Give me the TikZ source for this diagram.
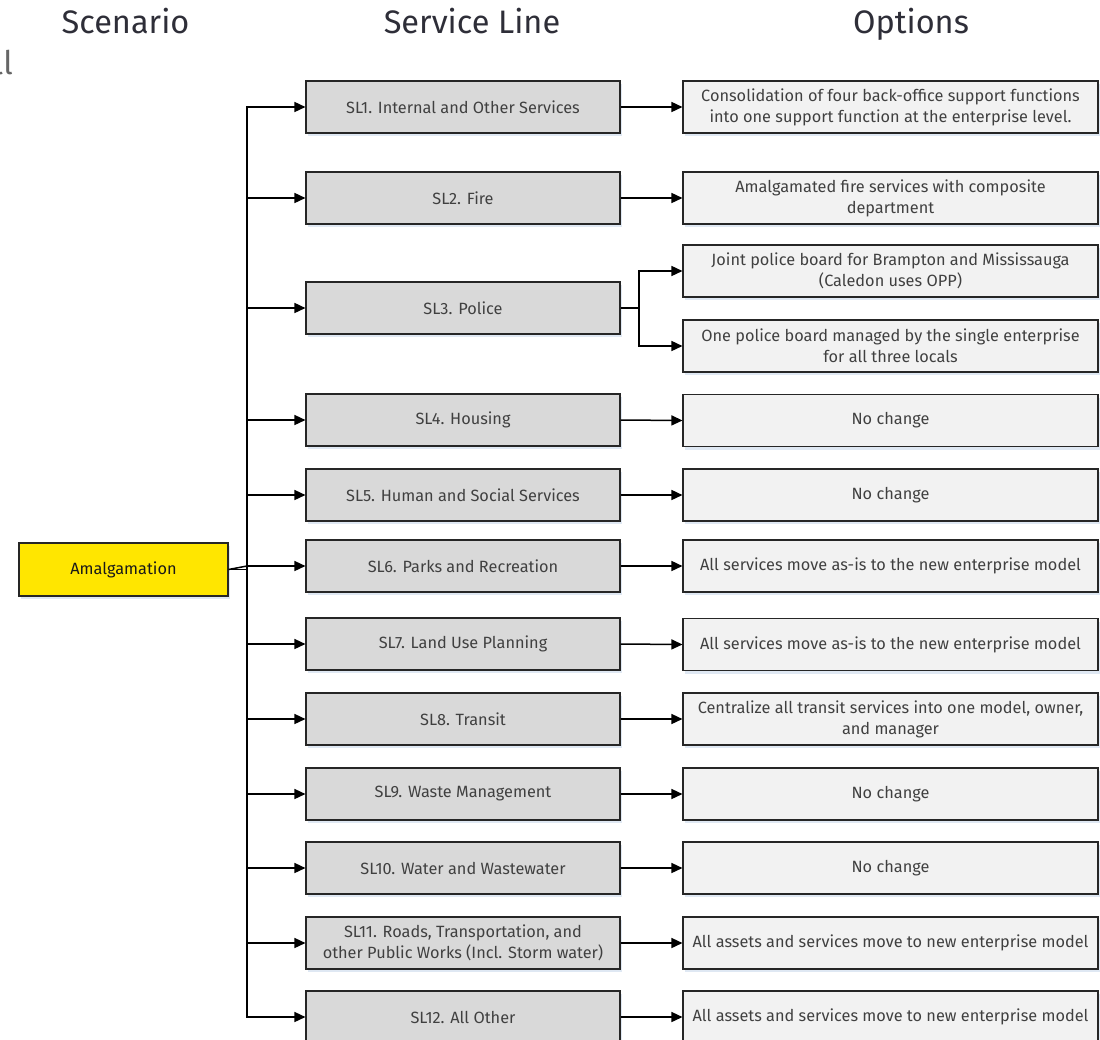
\documentclass[tikz,border=0pt]{standalone}
\usepackage{fontspec}
\setmainfont{Fira Sans}
\usetikzlibrary{arrows.meta,shadows}
\definecolor{titlec}{HTML}{2E2E38}
\definecolor{txtc}{HTML}{404040}
\definecolor{boxline}{HTML}{262626}
\definecolor{slfill}{HTML}{D9D9D9}
\definecolor{opfill}{HTML}{F2F2F2}
\definecolor{eyyellow}{HTML}{FFE600}
\definecolor{shadowc}{HTML}{DCE6F2}
\begin{document}
\begin{tikzpicture}[x=1pt,y=-1pt,
  base/.style={draw=boxline, line width=1.1pt, inner sep=0pt, align=center,
    font=\fontsize{16.3}{21}\selectfont, text=txtc,
    drop shadow={shadow xshift=1.5pt, shadow yshift=-3pt, fill=shadowc, opacity=0.9}},
  slbox/.style={base, fill=slfill, minimum width=314pt, minimum height=52pt},
  opbox/.style={base, fill=opfill, minimum width=415pt, minimum height=52pt},
  scbox/.style={base, fill=eyyellow, minimum width=209pt, minimum height=53pt, text=black!90},
  title/.style={font=\fontsize{32.5}{36}\selectfont, text=titlec, anchor=base},
  conn/.style={line width=1.5pt, draw=black, -{Triangle[length=11pt,width=10pt]}},
  plain/.style={line width=1.5pt, draw=black}]
\clip (0,0) rectangle (1100,1039);
\useasboundingbox (0,0) rectangle (1100,1039);

% titles
\node[title] (t1) at (125.5,33) {Scenario};
\node[title] (t2) at (472,33) {Service Line};
\node[title] (t3) at (911,33) {Options};
\node[title, anchor=base east, text=black!60, inner sep=0pt] (cut) at (13,74) {ll};

% scenario
\node[scbox] (amal) at (123.5,569.5) {Amalgamation};
\coordinate (tk) at (247,566);

% service lines
\node[slbox] (sl1) at (463,107) {SL1. Internal and Other Services};
\node[slbox] (sl2) at (463,198) {SL2. Fire};
\node[slbox] (sl3) at (463,308) {SL3. Police};
\node[slbox] (sl4) at (463,420) {SL4. Housing};
\node[slbox] (sl5) at (463,495) {SL5. Human and Social Services};
\node[slbox] (sl6) at (463,566) {SL6. Parks and Recreation};
\node[slbox] (sl7) at (463,644) {SL7. Land Use Planning};
\node[slbox] (sl8) at (463,719) {SL8. Transit};
\node[slbox] (sl9) at (463,794) {SL9. Waste Management};
\node[slbox] (sl10) at (463,868) {SL10. Water and Wastewater};
\node[slbox] (sl11) at (463,943) {SL11. Roads, Transportation, and\\other Public Works (Incl. Storm water)};
\node[slbox] (sl12) at (463,1017) {SL12. All Other};

% options
\node[opbox] (op1) at (890.5,107) {Consolidation of four back-office support functions\\into one support function at the enterprise level.};
\node[opbox] (op2) at (890.5,198) {Amalgamated fire services with composite\\department};
\node[opbox] (op3a) at (890.5,271) {Joint police board for Brampton and Mississauga\\(Caledon uses OPP)};
\node[opbox] (op3b) at (890.5,346) {One police board managed by the single enterprise\\for all three locals};
\node[opbox] (op4) at (890.5,420.5) {No change};
\node[opbox] (op5) at (890.5,495) {No change};
\node[opbox] (op6) at (890.5,566) {All services move as-is to the new enterprise model};
\node[opbox] (op7) at (890.5,644.5) {All services move as-is to the new enterprise model};
\node[opbox] (op8) at (890.5,719) {Centralize all transit services into one model, owner,\\and manager};
\node[opbox] (op9) at (890.5,794) {No change};
\node[opbox] (op10) at (890.5,868) {No change};
\node[opbox] (op11) at (890.5,943) {All assets and services move to new enterprise model};
\node[opbox] (op12) at (890.5,1017) {All assets and services move to new enterprise model};

% scenario to trunk
\draw[plain] (amal.east) -- (tk);
\draw[plain] (amal.east) -- (tk |- amal.east);

% trunk to service lines
\foreach \i in {1,...,12}{
  \draw[conn] (tk) |- (sl\i.west);
}

% service lines to options
\foreach \i in {1,2,4,5,6,7,8,9,10,11,12}{
  \draw[conn] (sl\i.east) -- (op\i.west);
}
\coordinate (pb) at (639,308);
\draw[plain] (sl3.east) -- (pb);
\draw[conn] (pb) |- (op3a.west);
\draw[conn] (pb) |- (op3b.west);
\end{tikzpicture}
\end{document}
